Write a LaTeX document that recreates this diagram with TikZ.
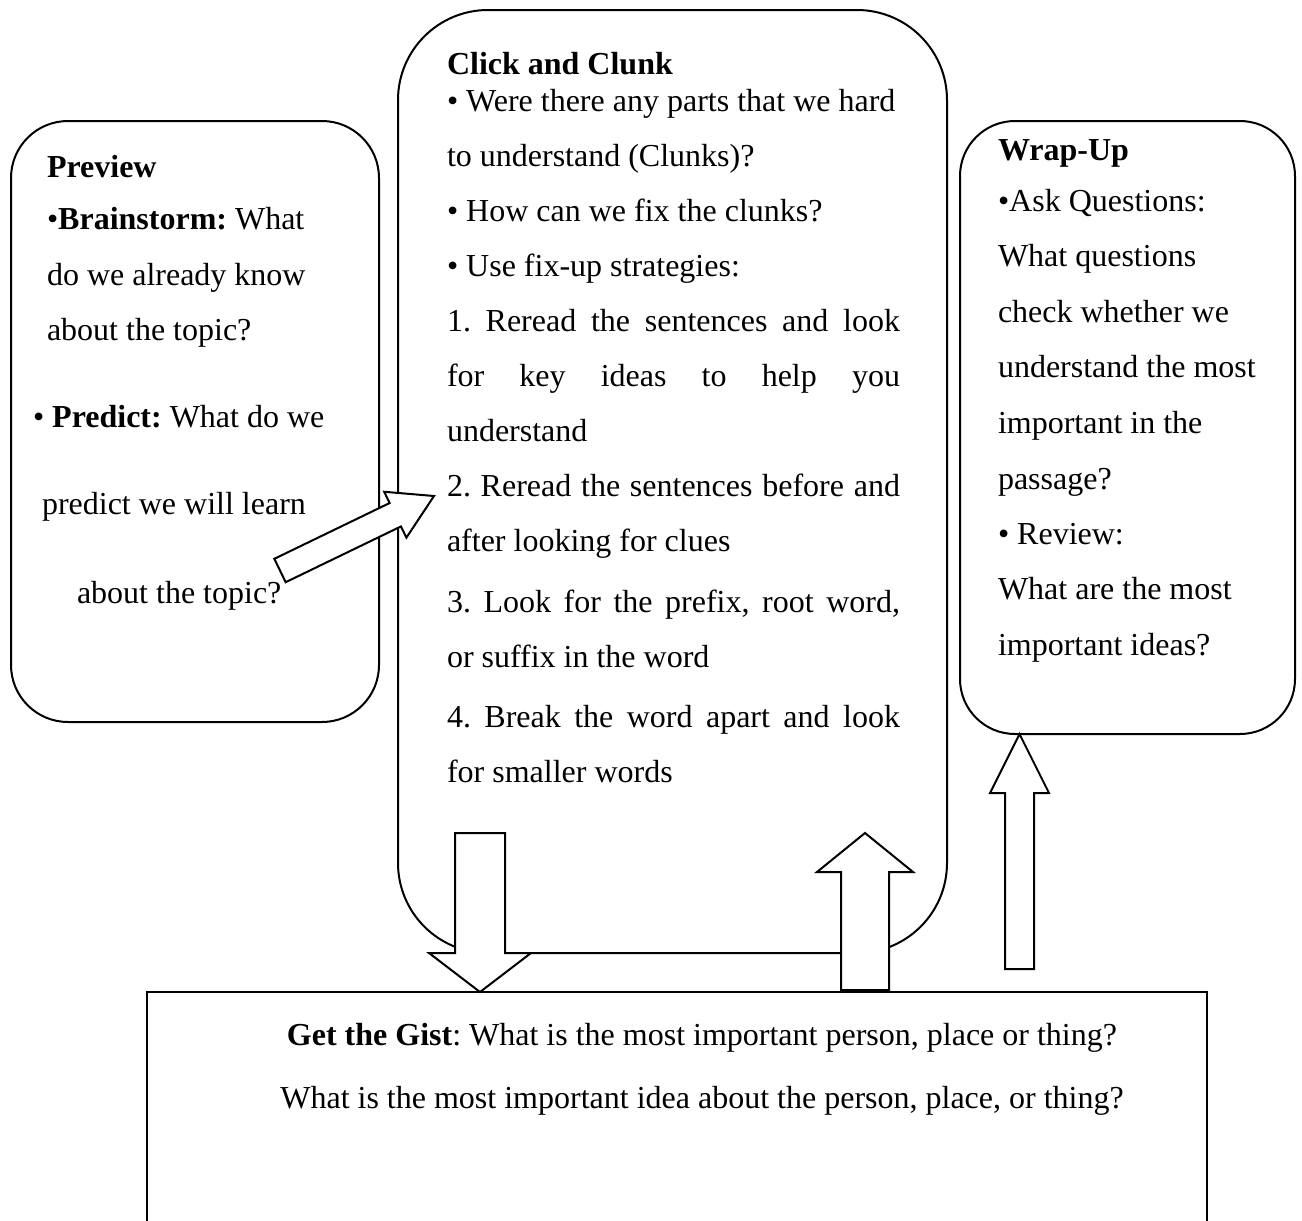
\documentclass[tikz,border=0pt]{standalone}
\usepackage{fontspec}
\setmainfont{Liberation Serif}
\usetikzlibrary{calc}
\frenchspacing
\newcommand\jline[1]{\makebox[226.5pt][s]{#1}}
% block arrow from #1 (tail centre) to #2 (tip); #3 half shaft, #4 half head, #5 head length (pt)
\newcommand\blockarrow[5]{%
  \coordinate (ba-h) at ($(#2)!#5pt!(#1)$);
  \draw[barrow] ($(#1)!#3pt!90:(#2)$) -- ($(ba-h)!#3pt!90:(#2)$) -- ($(ba-h)!#4pt!90:(#2)$)
    -- (#2) -- ($(ba-h)!#4pt!-90:(#2)$) -- ($(ba-h)!#3pt!-90:(#2)$) -- ($(#1)!#3pt!-90:(#2)$) -- cycle;}
\begin{document}
\begin{tikzpicture}[x=0.5pt,y=-0.5pt,
  box/.style={draw, line width=1pt, inner sep=0pt, outer sep=0pt},
  txt/.style={anchor=base west, inner sep=0pt, outer sep=0pt, font=\fontsize{16}{19}\selectfont\frenchspacing},
  ctxt/.style={anchor=base, inner sep=0pt, outer sep=0pt, font=\fontsize{16}{19}\selectfont\frenchspacing},
  barrow/.style={draw, fill=white, line width=1pt, line join=miter}]
\useasboundingbox (0,0) rectangle (1302,1221);
\clip (0,0) rectangle (1302,1221);

% boxes
\node[box, rounded corners=28.5pt, minimum width=184pt, minimum height=300.5pt] (prev) at (195,421.5) {};
\node[box, rounded corners=45pt, minimum width=274.5pt, minimum height=471.5pt] (click) at (672.5,481.5) {};
\node[box, rounded corners=27.5pt, minimum width=167.5pt, minimum height=306.5pt] (wrap) at (1127.5,427.5) {};
\node[box, line width=1.3pt, minimum width=530pt, minimum height=140pt] (gist) at (677,1132) {};

% Preview text
\node[txt] (p1) at (47,177) {\textbf{Preview}};
\node[txt] (p2) at (47,229) {•\textbf{Brainstorm:} What};
\node[txt] (p3) at (47,285) {do we already know};
\node[txt] (p4) at (47,340) {about the topic?};
\node[txt] (p5) at (33,427) {• \textbf{Predict:} What do we};
\node[txt] (p6) at (42,514) {predict we will learn};
\node[txt] (p7) at (77,603) {about the topic?};

% Click and Clunk text
\node[txt] (c0) at (447,74) {\textbf{Click and Clunk}};
\node[txt] (c1) at (447,111) {• Were there any parts that we hard};
\node[txt] (c2) at (447,166) {to understand (Clunks)?};
\node[txt] (c3) at (447,221) {• How can we fix the clunks?};
\node[txt] (c4) at (447,276) {• Use fix-up strategies:};
\node[txt] (c5) at (447,331) {\jline{1. Reread the sentences and look}};
\node[txt] (c6) at (447,386) {\jline{for key ideas to help you}};
\node[txt] (c7) at (447,441) {understand};
\node[txt] (c8) at (447,496) {\jline{2. Reread the sentences before and}};
\node[txt] (c9) at (447,551) {after looking for clues};
\node[txt] (c10) at (447,612) {\jline{3. Look for the prefix, root word,}};
\node[txt] (c11) at (447,667) {or suffix in the word};
\node[txt] (c12) at (447,727) {\jline{4. Break the word apart and look}};
\node[txt] (c13) at (447,782) {for smaller words};

% Wrap-Up text
\node[txt] (w0) at (998,160) {\textbf{Wrap-Up}};
\node[txt] (w1) at (998,211) {•Ask Questions:};
\node[txt] (w2) at (998,266) {What questions};
\node[txt] (w3) at (998,322) {check whether we};
\node[txt] (w4) at (998,377) {understand the most};
\node[txt] (w5) at (998,433) {important in the};
\node[txt] (w6) at (998,489) {passage?};
\node[txt] (w7) at (998,544) {• Review:};
\node[txt] (w8) at (998,599) {What are the most};
\node[txt] (w9) at (998,655) {important ideas?};

% Get the Gist text
\node[ctxt] (g1) at (702,1045) {\textbf{Get the Gist}: What is the most important person, place or thing?};
\node[ctxt] (g2) at (702,1108) {What is the most important idea about the person, place, or thing?};

% block arrows
\coordinate (da1) at (280,570.5);
\coordinate (da2) at (434,496);
\blockarrow{da1}{da2}{6.5}{12.75}{21.5}

\coordinate (dn1) at (480,833);
\coordinate (dn2) at (dn1 |- gist.north);
\blockarrow{dn1}{dn2}{12.5}{25.5}{19.5}

\coordinate (up1) at (865,990);
\coordinate (up2) at (865,833);
\blockarrow{up1}{up2}{12}{24}{19.5}

\coordinate (wa1) at (1019.5,969);
\coordinate (wa2) at (wa1 |- wrap.south);
\blockarrow{wa1}{wa2}{7.25}{14.75}{29.5}
\end{tikzpicture}
\end{document}
